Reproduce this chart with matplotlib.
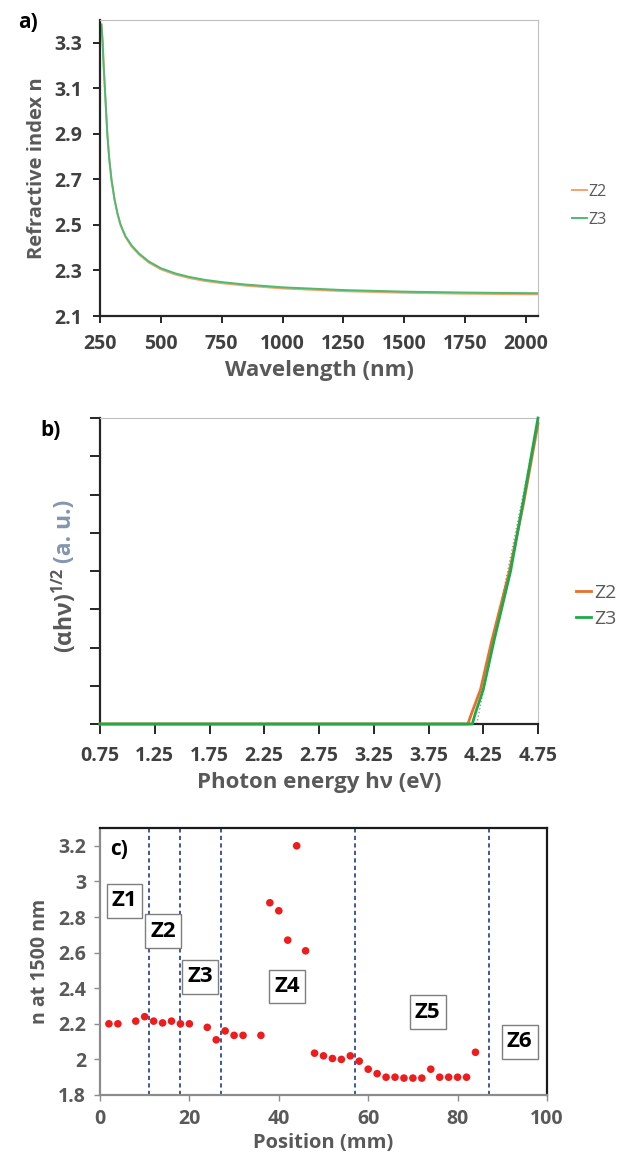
import numpy as np
import matplotlib
matplotlib.use("Agg")
import matplotlib.pyplot as plt
from matplotlib.patches import Rectangle

plt.rcParams['font.family'] = ['Open Sans', 'DejaVu Sans']
plt.rcParams['mathtext.fontset'] = 'custom'
plt.rcParams['mathtext.bf'] = 'Open Sans:bold'
plt.rcParams['mathtext.rm'] = 'Open Sans:bold'

# ---------------------------------------------------------------------------
# a) refractive index dispersion
# ---------------------------------------------------------------------------
wl = [256, 258, 261, 265, 270, 275, 280, 288, 297, 310, 322, 335, 355, 380,
      410, 450, 500, 560, 615, 680, 750, 850, 1000, 1250, 1500, 1750, 2050]
n_z3 = [3.38, 3.35, 3.30, 3.20, 3.10, 3.00, 2.90, 2.79, 2.70, 2.61, 2.55, 2.50,
        2.45, 2.41, 2.375, 2.34, 2.31, 2.287, 2.272, 2.259, 2.249, 2.238, 2.226,
        2.214, 2.207, 2.203, 2.200]
n_z2 = [3.38, 3.35, 3.30, 3.20, 3.10, 3.00, 2.90, 2.79, 2.70, 2.61, 2.548, 2.497,
        2.446, 2.405, 2.37, 2.335, 2.305, 2.282, 2.267, 2.254, 2.244, 2.233,
        2.221, 2.209, 2.202, 2.198, 2.195]

# b) Tauc plot
e_z2 = [0.75, 4.11, 4.14, 4.225, 4.33, 4.49, 4.62, 4.75]
t_z2 = [0.0, 0.0, 0.25, 0.9, 2.2, 4.0, 5.8, 7.85]
e_z3 = [0.75, 4.15, 4.18, 4.25, 4.35, 4.50, 4.62, 4.75]
t_z3 = [0.0, 0.0, 0.3, 0.9, 2.2, 4.0, 5.9, 8.0]
e_fit = [4.19, 4.75]
t_fit = [0.0, 7.9]

# c) n at 1500 nm along the sample
pos = [2, 4, 8, 10, 12, 14, 16, 18, 20, 24, 26, 28, 30, 32, 36, 38, 40, 42, 44,
       46, 48, 50, 52, 54, 56, 58, 60, 62, 64, 66, 68, 70, 72, 74, 76, 78, 80,
       82, 84]
n1500 = [2.20, 2.20, 2.215, 2.24, 2.215, 2.205, 2.215, 2.20, 2.20, 2.18, 2.11,
         2.16, 2.135, 2.135, 2.135, 2.88, 2.835, 2.67, 3.20, 2.61, 2.035, 2.02,
         2.005, 2.00, 2.02, 1.99, 1.945, 1.92, 1.90, 1.90, 1.895, 1.895, 1.895,
         1.945, 1.90, 1.90, 1.90, 1.90, 2.04]
zone_bounds = [11, 18, 27, 57, 87]
zone_names = ['Z1', 'Z2', 'Z3', 'Z4', 'Z5', 'Z6']
zone_x = [5.5, 14.1, 22.4, 41.9, 73.3, 93.9]
zone_y = [2.89, 2.72, 2.465, 2.41, 2.265, 2.10]

GRAY = '#595959'
W, H = 619, 1164
fig = plt.figure(figsize=(W / 100, H / 100), dpi=100)


def box(l, t, r, b):
    return [l / W, 1 - b / H, (r - l) / W, (b - t) / H]


def frame(ax):
    for s in ['left', 'bottom']:
        ax.spines[s].set_color('#262626')
        ax.spines[s].set_linewidth(1.6)
    for s in ['top', 'right']:
        ax.spines[s].set_color('#bfbfbf')
        ax.spines[s].set_linewidth(0.8)


# ---- panel a ----
ax = fig.add_axes(box(100, 20, 538, 316))
ax.plot(wl, n_z2, color='#f4a36c', lw=1.4, label='Z2')
ax.plot(wl, n_z3, color='#4cbb72', lw=1.4, label='Z3')
ax.set_xlim(250, 2050)
ax.set_ylim(2.1, 3.4)
ax.set_xticks(np.arange(250, 2001, 250))
ax.set_yticks([2.1, 2.3, 2.5, 2.7, 2.9, 3.1, 3.3])
ax.set_yticklabels(['2.1', '2.3', '2.5', '2.7', '2.9', '3.1', '3.3'])
frame(ax)
ax.tick_params(direction='out', length=5, width=1.4, color='#262626',
               labelsize=14, labelcolor='#404040', pad=8)
for lab in ax.get_xticklabels() + ax.get_yticklabels():
    lab.set_fontweight('bold')
ax.set_xlabel('Wavelength (nm)', fontsize=16, fontweight='bold', color=GRAY,
              labelpad=4)
ax.set_ylabel('Refractive index n', fontsize=14.5, fontweight='bold',
              color=GRAY, labelpad=5)
fig.legend(*ax.get_legend_handles_labels(), loc='center left',
           bbox_to_anchor=(558 / W, 1 - 206 / H), frameon=False,
           handlelength=0.9, handletextpad=0.1, labelspacing=0.75,
           prop={'size': 11.5}, labelcolor=GRAY)
fig.text(18 / W, 1 - 23 / H, 'a)', fontsize=15, fontweight='bold',
         ha='left', va='center')

# ---- panel b ----
ax = fig.add_axes(box(100, 418, 538, 724))
ax.plot(e_fit, t_fit, color='#999999', lw=1.0, ls=':', zorder=2)
ax.plot(e_z2, t_z2, color='#e8702a', lw=2.0, label='Z2', zorder=3,
        clip_on=False)
ax.plot(e_z3, t_z3, color='#1faa4a', lw=2.0, label='Z3', zorder=4,
        clip_on=False)
ax.set_xlim(0.75, 4.75)
ax.set_ylim(0, 8)
ax.set_xticks(np.arange(0.75, 4.76, 0.5))
ax.set_xticklabels([f'{v:.2f}' for v in np.arange(0.75, 4.76, 0.5)])
ax.set_yticks(np.arange(0, 9, 1))
ax.set_yticklabels([])
frame(ax)
ax.tick_params(direction='out', length=7, width=1.4, color='#262626',
               labelsize=14, labelcolor='#404040', pad=9)
for lab in ax.get_xticklabels():
    lab.set_fontweight('bold')
ax.set_xlabel('Photon energy h\u03bd (eV)', fontsize=16, fontweight='bold',
              color=GRAY, labelpad=4)
ax.text(-0.08, 0.51, '(\u03b1h\u03bd)$^{\\mathbf{1/2}}$', transform=ax.transAxes,
        rotation=90, ha='center', va='top', fontsize=16.5, fontweight='bold',
        color=GRAY)
ax.text(-0.08, 0.525, '(a. u.)', transform=ax.transAxes, rotation=90,
        ha='center', va='bottom', fontsize=16.5, fontweight='bold',
        color='#8496b0')
fig.legend(*ax.get_legend_handles_labels(), loc='center left',
           bbox_to_anchor=(558 / W, 1 - 606 / H), frameon=False,
           handlelength=0.8, handletextpad=0.15, labelspacing=0.4,
           prop={'size': 14}, labelcolor=GRAY)
fig.text(51 / W, 1 - 430 / H, 'b)', fontsize=15, fontweight='bold',
         ha='center', va='center')

# ---- panel c ----
ax = fig.add_axes(box(100, 828, 547, 1095))
ax.scatter(pos, n1500, s=30, color='#ee1c1c', edgecolors='none', zorder=3)
for xb in zone_bounds:
    ax.axvline(xb, color='#1f3b8c', lw=1.2, ls=(0, (2.5, 2)), zorder=2)
bw, bh = 8.0, 0.19   # label box size in data units
for name, zx, zy in zip(zone_names, zone_x, zone_y):
    ax.add_patch(Rectangle((zx - bw / 2, zy - bh / 2), bw, bh, fc='white',
                           ec='#7f7f7f', lw=1.0, zorder=4))
    ax.text(zx, zy, name, fontsize=16, fontweight='bold', ha='center',
            va='center', zorder=5)
ax.text(4.2, 3.18, 'c)', fontsize=15, fontweight='bold', ha='center',
        va='center')
ax.set_xlim(0, 100)
ax.set_ylim(1.8, 3.3)
ax.set_xticks(np.arange(0, 101, 20))
ax.set_yticks([1.8, 2.0, 2.2, 2.4, 2.6, 2.8, 3.0, 3.2])
ax.set_yticklabels(['1.8', '2', '2.2', '2.4', '2.6', '2.8', '3', '3.2'])
for s in ['top', 'right']:
    ax.spines[s].set_color('#1a1a1a')
    ax.spines[s].set_linewidth(1.6)
for s in ['left', 'bottom']:
    ax.spines[s].set_color('#8c8c8c')
    ax.spines[s].set_linewidth(1.6)
ax.tick_params(direction='out', length=4, width=1.0, color='#8c8c8c',
               labelsize=14, labelcolor=GRAY, pad=6)
for lab in ax.get_xticklabels() + ax.get_yticklabels():
    lab.set_fontweight('bold')
ax.set_xlabel('Position (mm)', fontsize=14.5, fontweight='bold', color=GRAY,
              labelpad=3)
ax.set_ylabel('n at 1500 nm', fontsize=14, fontweight='bold', color=GRAY,
              labelpad=6)

fig.savefig('out.png', dpi=100, facecolor='white')
